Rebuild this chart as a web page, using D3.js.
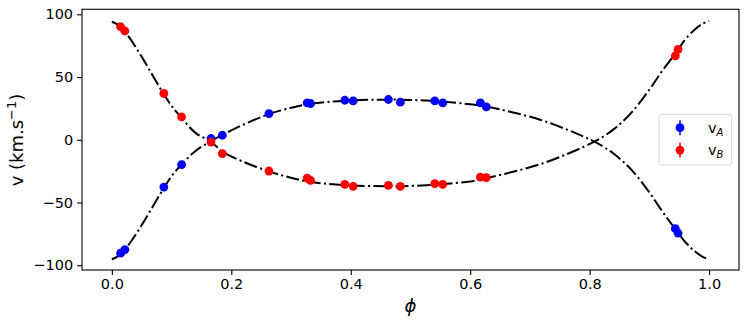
<!DOCTYPE html>
<html>
<head>
<meta charset="utf-8">
<script src="https://cdn.jsdelivr.net/npm/d3@7"></script>
<style>
	body { margin: 0; background: #fff; }
	svg { font-family: "DejaVu Sans", sans-serif; }
	.tick text { font-family: "DejaVu Sans", sans-serif; font-size: 14.5px; fill: #000; }
</style>
</head>
<body>
<svg id="chart" width="748" height="326"></svg>
<script>
var phaseObs = [0.0146, 0.0218, 0.087, 0.1167, 0.166, 0.185, 0.263, 0.327, 0.3326, 0.390, 0.404,
	0.4630, 0.483, 0.5406, 0.554, 0.617, 0.627, 0.9434, 0.948];
var vAObs = [-90.4, -87.5, -37.7, -19.8, 1.0, 3.6, 20.9, 29.4, 28.9, 31.5, 31.0,
	32.1, 30.0, 31.0, 29.4, 29.4, 26.2, -70.9, -74.4];
var vBObs = [90.1, 86.7, 36.9, 18.2, -1.8, -11.0, -24.9, -30.5, -32.3, -35.5, -37.1,
	-36.3, -37.1, -35.0, -35.5, -29.7, -30.2, 66.9, 72.0];

// model curves (dash-dot)
var phaseFit = [0, 0.01, 0.02, 0.03, 0.05, 0.07, 0.087, 0.10, 0.117, 0.14, 0.166, 0.185, 0.22, 0.263,
	0.30, 0.33, 0.39, 0.46, 0.50, 0.55, 0.60, 0.627, 0.67, 0.717, 0.76, 0.79, 0.812, 0.84, 0.87,
	0.90, 0.92, 0.943, 0.96, 0.975, 0.99, 1.0];
var vAFit = [-95.2, -93, -88.5, -82.5, -68, -52, -38.5, -29, -19.5, -9, -1, 3.8, 12, 20.5,
	25.5, 28.5, 31.2, 32, 31.8, 30.5, 28.3, 26.5, 22, 16, 8.5, 2.5, -2.5, -11, -24,
	-42, -56, -71, -81.5, -88.5, -93.5, -95.2];
var vBFit = [94.1, 91.8, 87.2, 81, 66.1, 49.9, 36.3, 27, 17.3, 5.5, -1.5, -9.5, -17.5, -25.2,
	-30.3, -33.4, -36.2, -37, -36.8, -35.5, -33.2, -30.6, -25.7, -19.5, -11.8, -5.6, -0.5, 8.3, 21.7,
	40, 54, 68.5, 80, 87.5, 92.8, 94.5];

var xTicks = [0, 0.2, 0.4, 0.6, 0.8, 1.0];
var yTicks = [-100, -50, 0, 50, 100];

var svg = d3.select('#chart');
var margin = {left: 82, right: 9, top: 9.3, bottom: 56};
var W = 748 - margin.left - margin.right;
var H = 326 - margin.top - margin.bottom;
var g = svg.append('g').attr('transform', 'translate(' + margin.left + ',' + margin.top + ')');

var x = d3.scaleLinear().domain([-0.05, 1.05]).range([0, W]);
var y = d3.scaleLinear().domain([-103.8, 104]).range([H, 0]);

// axes
var xAxis = g.append('g').attr('transform', 'translate(0,' + H + ')')
	.call(d3.axisBottom(x).tickValues(xTicks).tickFormat(d3.format('.1f')).tickSize(4.9).tickPadding(4));
var yAxis = g.append('g')
	.call(d3.axisLeft(y).tickValues(yTicks).tickFormat(function(d){ return d < 0 ? '\u2212' + Math.abs(d) : d; }).tickSize(4.9).tickPadding(4));
[xAxis, yAxis].forEach(function(a){
	a.select('.domain').remove();
	a.selectAll('.tick line').attr('stroke', '#000').attr('stroke-width', 1.1);
});

// fit lines
var line = d3.line().curve(d3.curveCatmullRom.alpha(0.5));
[vAFit, vBFit].forEach(function(vs){
	g.append('path')
		.attr('d', line(phaseFit.map(function(p, i){ return [x(p), y(vs[i])]; })))
		.attr('fill', 'none')
		.attr('stroke', '#000')
		.attr('stroke-width', 2)
		.attr('stroke-dasharray', '13.3,3.3,2.1,3.3');
});

// points
function dots(vs, color){
	g.append('g').selectAll('circle').data(phaseObs).enter().append('circle')
		.attr('cx', function(d){ return x(d); })
		.attr('cy', function(d, i){ return y(vs[i]); })
		.attr('r', 4.4)
		.attr('fill', color);
}
dots(vAObs, '#0000ff');
dots(vBObs, '#ff0000');

// frame
g.append('rect').attr('width', W).attr('height', H)
	.attr('fill', 'none').attr('stroke', '#000').attr('stroke-width', 1.1);

// labels
svg.append('text')
	.attr('transform', 'translate(23,140) rotate(-90)')
	.attr('text-anchor', 'middle')
	.attr('font-size', 18)
	.html('v (km.s<tspan dy="-7" font-size="13">\u22121</tspan><tspan dy="7">)</tspan>');
svg.append('text')
	.attr('x', margin.left + W / 2).attr('y', 312)
	.attr('text-anchor', 'middle')
	.attr('font-size', 18)
	.attr('font-style', 'italic')
	.text('\u03d5');

// legend
var lg = svg.append('g').attr('transform', 'translate(659,114.3)');
lg.append('rect').attr('width', 72.7).attr('height', 50.7).attr('rx', 3)
	.attr('fill', '#fff').attr('fill-opacity', 0.8).attr('stroke', '#d6d6d6');
[['A', '#0000ff'], ['B', '#ff0000']].forEach(function(e, i){
	var cy = 13.4 + i * 22.4;
	lg.append('line').attr('x1', 21).attr('x2', 21).attr('y1', cy - 7.5).attr('y2', cy + 7.5)
		.attr('stroke', e[1]).attr('stroke-width', 1.5);
	lg.append('circle').attr('cx', 21).attr('cy', cy).attr('r', 4.4).attr('fill', e[1]);
	lg.append('text').attr('x', 49).attr('y', cy + 5).attr('font-size', 14.5)
		.html('v<tspan dy="3" font-size="10" font-style="italic">' + e[0] + '</tspan>');
});
</script>
</body>
</html>
